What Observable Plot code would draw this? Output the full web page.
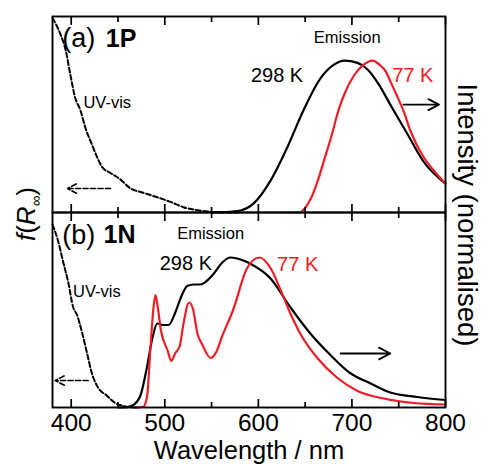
<!DOCTYPE html>
<html><head><meta charset="utf-8">
<script src="https://cdn.jsdelivr.net/npm/d3@7"></script>
<script src="https://cdn.jsdelivr.net/npm/@observablehq/plot@0.6"></script>
<style>
body{margin:0;background:#fff;font-family:"Liberation Sans",Arial,sans-serif;}
#wrap{position:relative;width:482px;height:464px;overflow:hidden;background:#fff;}
#wrap svg{position:absolute;left:0;}
.lab{position:absolute;white-space:nowrap;color:#000;line-height:1;font-family:"Liberation Sans",Arial,sans-serif;}
</style></head><body><div id="wrap"></div><script>
// ---- x axis ticks ----
const majorTicks = [400, 500, 600, 700, 800];
const minorTicks = [450, 550, 650, 750];

// ---- Panel (a) 1P ----
const uvA_wl = [380,388,394,399,404,410,415,422,428,433,442,452,463,477,492,506,520,535,550,565,578];
const uvA_f  = [1.28,1.18,1.07,0.91,0.76,0.67,0.56,0.45,0.36,0.30,0.26,0.22,0.16,0.13,0.10,0.07,0.035,0.015,0.004,0,0];
const emA298_wl = [550,570,581,595,613,631,648,666,680,692,706,717,728,741,759,776,800];
const emA298_I  = [0,0.005,0.013,0.06,0.21,0.43,0.67,0.88,0.97,1.0,0.985,0.94,0.85,0.71,0.52,0.34,0.19];
const emA77_wl = [630,645,650,656,663,670,678,685,692,702,712,722,730,736,742,748,755,763,776,787,800];
const emA77_I  = [0,0.003,0.03,0.09,0.2,0.34,0.5,0.66,0.78,0.9,0.97,1.0,0.97,0.93,0.85,0.77,0.67,0.53,0.37,0.28,0.19];

// ---- Panel (b) 1N ----
const uvB_wl = [380,386,391,397,402,406,412,417,422,429,438,447,456,465,472];
const uvB_f  = [1.22,1.11,0.98,0.83,0.67,0.62,0.49,0.36,0.23,0.13,0.08,0.03,0.01,0.002,0];
const emB298_wl = [450,460,466,474,481,487,492,498,504,511,517,524,531,538,552,562,570,584,591,613,634,656,677,698,720,741,770,800];
const emB298_I  = [0,0.003,0.015,0.08,0.27,0.47,0.56,0.55,0.55,0.63,0.73,0.81,0.82,0.82,0.89,0.97,1.0,0.98,0.96,0.86,0.67,0.49,0.35,0.23,0.16,0.10,0.07,0.05];
const emB77_wl = [470,477,481,485,488,490,492,496,503,507,511,516,520,526,530,535,540,549,555,561,573,588,601,613,624,634,645,663,684,706,734,766,800];
const emB77_I  = [0,0.005,0.07,0.43,0.67,0.75,0.69,0.51,0.38,0.31,0.36,0.41,0.56,0.70,0.66,0.49,0.42,0.33,0.37,0.47,0.65,0.93,1.0,0.93,0.78,0.63,0.49,0.33,0.20,0.11,0.06,0.03,0.02];

// ---- annotations (data units: wavelength, normalised value) ----
const notesA_start = [{t:"UV-vis", x:413, y:0.72}];
const notesA_mid = [{t:"Emission", x:695, y:1.15}];
const notesA_temp298 = [{t:"298 K", x:620, y:0.90}];
const notesA_temp77 = [{t:"77 K", x:765, y:0.90}];
const panelA_tag = [{t:"(a)", x:390.5, y:1.145}];
const panelA_id = [{t:"1P", x:437, y:1.145}];
const dashArrowA = [{x1:442, x2:396, y:0.158}];
const solidArrowA = [{x1:755, x2:793, y:0.71}];

const notesB_start = [{t:"UV-vis", x:402, y:0.773}];
const notesB_mid = [{t:"Emission", x:549, y:1.157}];
const notesB_temp298 = [{t:"298 K", x:522.5, y:0.957}];
const notesB_temp77 = [{t:"77 K", x:642, y:0.95}];
const panelB_tag = [{t:"(b)", x:390.5, y:1.147}];
const panelB_id = [{t:"1N", x:434.5, y:1.147}];
const dashArrowB = [{x1:418, x2:383, y:0.18}];
const solidArrowB = [{x1:688, x2:741, y:0.36}];

const RED = "#ee1c24";
const FONT = "'Liberation Sans', Arial, sans-serif";
const tbl = (w, v) => w.map((x, i) => ({wl: x, v: v[i]}));

function panelMarks(uv, e298, e77, nStart, nMid, t298, t77, tag, id, dArr, sArr) {
  return [
    Plot.line(uv, {x: "wl", y: "v", stroke: "black", strokeWidth: 2, strokeDasharray: "5,2.5", curve: "monotone-x"}),
    Plot.line(e298, {x: "wl", y: "v", stroke: "black", strokeWidth: 2.2, curve: "monotone-x"}),
    Plot.line(e77, {x: "wl", y: "v", stroke: RED, strokeWidth: 2.2, curve: "monotone-x"}),
    Plot.axisX(majorTicks, {anchor: "top", tickSize: 8, dy: 8, fill: "none", stroke: "black", strokeWidth: 1.7, label: null}),
    Plot.axisX(minorTicks, {anchor: "top", tickSize: 5, dy: 5, fill: "none", stroke: "black", strokeWidth: 1.7, label: null}),
    Plot.axisX(majorTicks, {anchor: "bottom", tickSize: 8, dy: -8, fill: "none", stroke: "black", strokeWidth: 1.7, label: null}),
    Plot.axisX(minorTicks, {anchor: "bottom", tickSize: 5, dy: -5, fill: "none", stroke: "black", strokeWidth: 1.7, label: null}),
    Plot.frame({stroke: "black", strokeWidth: 1.9}),
    Plot.text(nStart, {x: "x", y: "y", text: "t", textAnchor: "start", fontSize: 16.5, fill: "black"}),
    Plot.text(nMid, {x: "x", y: "y", text: "t", textAnchor: "middle", fontSize: 16.5, fill: "black"}),
    Plot.text(t298, {x: "x", y: "y", text: "t", fontSize: 20, fill: "black"}),
    Plot.text(t77, {x: "x", y: "y", text: "t", fontSize: 20, fill: RED}),
    Plot.text(tag, {x: "x", y: "y", text: "t", textAnchor: "start", fontSize: 27, fill: "black"}),
    Plot.text(id, {x: "x", y: "y", text: "t", textAnchor: "start", fontSize: 25, fontWeight: "bold", fill: "black"}),
    Plot.arrow(dArr, {x1: "x1", y1: "y", x2: "x2", y2: "y", stroke: "black", strokeWidth: 1.7, strokeDasharray: "5,2.5", headLength: 9, headAngle: 55}),
    Plot.arrow(sArr, {x1: "x1", y1: "y", x2: "x2", y2: "y", stroke: "black", strokeWidth: 1.9, headLength: 10, headAngle: 55})
  ];
}

const common = {
  width: 482, marginLeft: 52, marginRight: 37,
  x: {domain: [380, 800]},
  style: {fontFamily: FONT, background: "transparent", overflow: "visible", color: "black"}
};

const marksA = panelMarks(tbl(uvA_wl, uvA_f), tbl(emA298_wl, emA298_I), tbl(emA77_wl, emA77_I),
  notesA_start, notesA_mid, notesA_temp298, notesA_temp77, panelA_tag, panelA_id, dashArrowA, solidArrowA);
const marksB = panelMarks(tbl(uvB_wl, uvB_f), tbl(emB298_wl, emB298_I), tbl(emB77_wl, emB77_I),
  notesB_start, notesB_mid, notesB_temp298, notesB_temp77, panelB_tag, panelB_id, dashArrowB, solidArrowB).concat([
    Plot.axisX(majorTicks, {anchor: "bottom", tickSize: 0, tickPadding: 6, fontSize: 24.5, label: null, fill: "black"}),
    Plot.text(["Wavelength / nm"], {frameAnchor: "bottom", dy: 51, lineAnchor: "bottom", fontSize: 25.5, fill: "black"})
  ]);

const plotA = Plot.plot({...common, height: 212, marginTop: 16, marginBottom: 0,
  y: {domain: [0, 1.29], axis: null}, marks: marksA});
const plotB = Plot.plot({...common, height: 252, marginTop: 0, marginBottom: 57,
  y: {domain: [0, 1.3], axis: null}, marks: marksB});

const wrap = document.getElementById("wrap");
plotA.style.top = "0px";
plotB.style.top = "212px";
wrap.appendChild(plotB);
wrap.appendChild(plotA);

const left = document.createElement("div");
left.className = "lab";
left.style.cssText = "left:26px;top:214px;transform:translate(-50%,-50%) rotate(-90deg);font-size:26px;";
left.innerHTML = '<i>f</i>(<i>R</i><span style="font-size:15px;position:relative;top:6px;">∞</span>)';
wrap.appendChild(left);

const right = document.createElement("div");
right.className = "lab";
right.style.cssText = "left:467px;top:215px;transform:translate(-50%,-50%) rotate(90deg);font-size:27.5px;";
right.textContent = "Intensity (normalised)";
wrap.appendChild(right);
</script></body></html>
